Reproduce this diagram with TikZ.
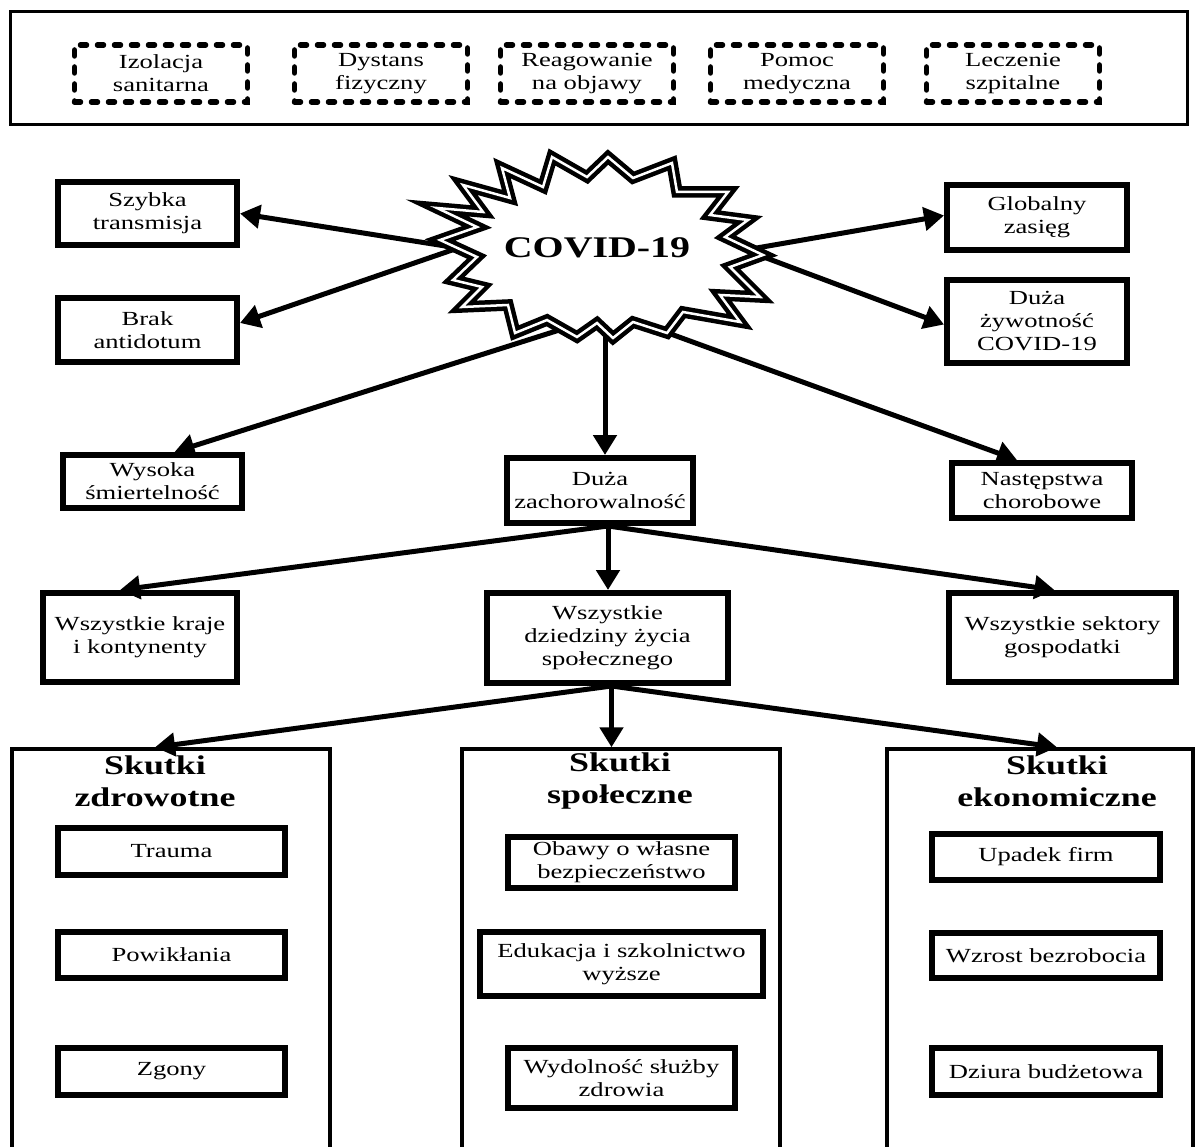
\documentclass[tikz,border=0pt]{standalone}
\usepackage{fontspec}
\setmainfont{Liberation Serif}[FakeStretch=1.33]
\usetikzlibrary{arrows.meta,calc}

\tikzset{
  lbl/.style={font=\fontsize{20}{23}\selectfont, align=center, inner sep=0pt},
  box/.style={lbl, draw, line width=6pt, rectangle},
  dbox/.style={draw, line width=5.5pt, dash pattern=on 6pt off 11pt, line cap=round,
               align=center, font=\fontsize{20}{23}\selectfont, inner sep=0pt,
               minimum width=173pt, minimum height=57pt},
  arr/.style={line width=5pt, -{Triangle[length=20pt,width=23pt]}},
  panel/.style={draw, line width=3.5pt, inner sep=0pt, minimum height=451pt},
  ptitle/.style={font=\fontsize{27}{32}\selectfont\bfseries, align=center, inner sep=0pt},
  starline/.style={draw, line width=4.5pt, double=white, double distance=2.5pt, fill=white},
}

\begin{document}
\begin{tikzpicture}[x=1pt,y=-1pt]
\clip (0,0) rectangle (1196,1147);
\fill[white] (0,0) rectangle (1196,1147);

% preventive measures
\node[draw, line width=3pt, inner sep=0pt, minimum width=1177pt, minimum height=113pt] (frame) at (598.5,68.5) {};
\node[dbox] (izo)  at (161,73.5)  {Izolacja\\sanitarna};
\node[dbox] (dys)  at (381,73.5)  {Dystans\\fizyczny};
\node[dbox] (rea)  at (587,73.5)  {Reagowanie\\na objawy};
\node[dbox] (pom)  at (797,73.5)  {Pomoc\\medyczna};
\node[dbox] (lec)  at (1013,73.5) {Leczenie\\szpitalne};

% features around the virus
\node[box, minimum width=179pt, minimum height=63pt] (szybka) at (147.5,213.5) {Szybka\\transmisja};
\node[box, minimum width=179pt, minimum height=64pt] (brak)   at (147.5,330)   {Brak\\antidotum};
\node[box, minimum width=179pt, minimum height=53pt] (wysoka) at (152.5,481.5) {Wysoka\\śmiertelność};
\node[box, minimum width=180pt, minimum height=65pt] (glob)   at (1037,217.5)  {Globalny\\zasięg};
\node[box, minimum width=180pt, minimum height=83pt] (zyw)    at (1037,321.5)  {Duża\\żywotność\\COVID-19};
\node[box, minimum width=180pt, minimum height=55pt] (nast)   at (1042,490.5)  {Następstwa\\chorobowe};
\node[box, minimum width=186pt, minimum height=65pt] (zach)   at (600,490.5)   {Duża\\zachorowalność};

% scope of the pandemic
\node[box, minimum width=194pt, minimum height=89pt] (kraje) at (140,637.5)  {Wszystkie kraje\\i kontynenty};
\node[box, minimum width=241pt, minimum height=90pt] (dz)    at (607.5,638)  {Wszystkie\\dziedziny życia\\społecznego};
\node[box, minimum width=227pt, minimum height=89pt] (sekt)  at (1062.5,637.5) {Wszystkie sektory\\gospodatki};

% consequence panels
\node[panel, minimum width=318pt] (p1) at (171,974.5)  {};
\node[panel, minimum width=318pt] (p2) at (621,974.5)  {};
\node[panel, minimum width=306pt] (p3) at (1040,974.5) {};
\node[ptitle] (t1) at (155,781)  {Skutki\\zdrowotne};
\node[ptitle] (t2) at (620,781)  {Skutki\\społeczne};
\node[ptitle] (t3) at (1057,781) {Skutki\\ekonomiczne};

\node[box, minimum width=227pt, minimum height=47pt] (trauma) at (171.5,851.5) {Trauma};
\node[box, minimum width=227pt, minimum height=46pt] (powik)  at (171.5,955)   {Powikłania};
\node[box, minimum width=227pt, minimum height=47pt] (zgony)  at (171.5,1071.5) {Zgony};

\node[box, minimum width=227pt, minimum height=51pt] (obawy) at (621.5,862.5) {Obawy o własne\\bezpieczeństwo};
\node[box, minimum width=283pt, minimum height=64pt] (eduk)  at (621.5,964)   {Edukacja i szkolnictwo\\wyższe};
\node[box, minimum width=227pt, minimum height=60pt] (wydol) at (621.5,1078)  {Wydolność służby\\zdrowia};

\node[box, minimum width=228pt, minimum height=46pt] (upadek) at (1046,857)    {Upadek firm};
\node[box, minimum width=228pt, minimum height=45pt] (wzrost) at (1046,955.5)  {Wzrost bezrobocia};
\node[box, minimum width=228pt, minimum height=47pt] (dziura) at (1046,1071.5) {Dziura budżetowa};

% arrows leaving the virus
\coordinate (sL)  at (458,248);
\coordinate (sR)  at (745,250);
\coordinate (sBL) at (572,326);
\coordinate (sB)  at (605,330);
\coordinate (sBR) at (668,333);
\draw[arr] (sL) -- (szybka.east);
\draw[arr] (sL) -- ($(brak.east)+(0,-7)$);
\draw[arr] (sBL) -- ($(wysoka.north)+(22,0)$);
\draw[arr] (sR) -- ($(glob.west)+(0,-2)$);
\draw[arr] (sR) -- ($(zyw.west)+(0,3)$);
\draw[arr] (sBR) -- ($(nast.north)+(-25,0)$);
\draw[arr] (sB) -- (sB |- zach.north);

% the virus itself
\path[starline]
  (463,185) -- (510,198) -- (502,168) -- (543,187) -- (552,157) -- (587,177)
  -- (608,157) -- (633,178) -- (672,163) -- (677,192) -- (728,192) -- (710,215)
  -- (748,220) -- (725,237) -- (763,255) -- (730,267) -- (760,297) -- (720,295)
  -- (740,322) -- (683,312) -- (667,333) -- (633,322) -- (613,338) -- (597,323)
  -- (577,337) -- (547,320) -- (515,333) -- (508,305) -- (462,307) -- (482,287)
  -- (453,280) -- (477,257) -- (440,240) -- (477,227) -- (437,208) -- (483,212)
  -- cycle;
\node[font=\fontsize{30}{34}\selectfont\bfseries, inner sep=0pt] (covid) at (597,248) {COVID-19};

% arrows to the scope boxes
\coordinate (zS) at ($(zach.south)+(8,0)$);
\draw[arr] (zS) -- ($(kraje.north)+(-20,0)$);
\draw[arr] (zS) -- (zS |- dz.north);
\draw[arr] (zS) -- ($(sekt.north)+(-8,0)$);

% arrows to the consequence panels
\coordinate (dS) at ($(dz.south)+(4,0)$);
\draw[arr] (dS) -- ($(p1.north)+(-16,0)$);
\draw[arr] (dS) -- (dS |- p2.north);
\draw[arr] (dS) -- ($(p3.north)+(17,0)$);
\end{tikzpicture}
\end{document}
